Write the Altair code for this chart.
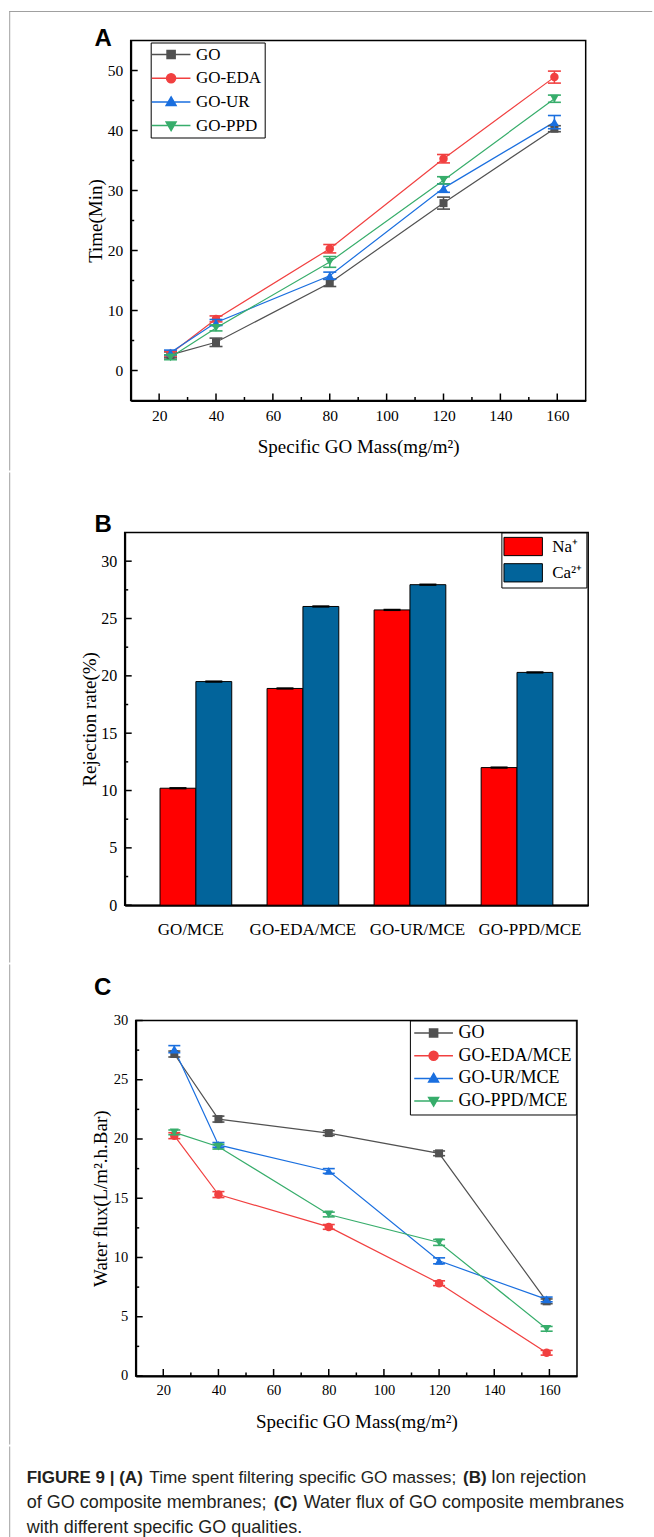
import altair as alt
import pandas as pd

SERIF = "Liberation Serif"
SANS = "Liberation Sans"
BORDER = "#a0a0a0"

# ---------------- Panel A: filtering time ----------------
mass = [24, 40, 80, 120, 159]
series_a = ["GO", "GO-EDA", "GO-UR", "GO-PPD"]
time_go = [2.6, 4.7, 14.6, 27.9, 40.3]
time_eda = [2.8, 8.6, 20.3, 35.3, 48.9]
time_ur = [3.0, 8.0, 15.8, 30.4, 41.4]
time_ppd = [2.2, 7.1, 18.1, 31.7, 45.3]
time_go_err = [0.5, 0.7, 0.6, 1.0, 0.5]
time_eda_err = [0.4, 0.5, 0.7, 0.7, 1.0]
time_ur_err = [0.4, 0.5, 0.6, 0.7, 1.1]
time_ppd_err = [0.4, 0.5, 0.9, 0.6, 0.6]

# ---------------- Panel B: ion rejection ----------------
membranes = ["GO/MCE", "GO-EDA/MCE", "GO-UR/MCE", "GO-PPD/MCE"]
ions = ["Na⁺", "Ca²⁺"]
na_rej = [10.2, 18.9, 25.75, 12.0]
ca_rej = [19.5, 26.05, 27.95, 20.3]
na_err = [0.1, 0.1, 0.1, 0.1]
ca_err = [0.1, 0.1, 0.1, 0.1]

# ---------------- Panel C: water flux ----------------
series_c = ["GO", "GO-EDA/MCE", "GO-UR/MCE", "GO-PPD/MCE"]
flux_go = [27.17, 21.68, 20.5, 18.79, 6.3]
flux_eda = [20.28, 15.31, 12.58, 7.83, 1.96]
flux_ur = [27.58, 19.5, 17.3, 9.72, 6.46]
flux_ppd = [20.56, 19.35, 13.63, 11.27, 3.98]
flux_go_err = [0.25, 0.25, 0.2, 0.2, 0.2]
flux_eda_err = [0.25, 0.25, 0.2, 0.2, 0.2]
flux_ur_err = [0.3, 0.2, 0.2, 0.25, 0.2]
flux_ppd_err = [0.2, 0.2, 0.2, 0.25, 0.2]

# ---------------- ticks ----------------
x_major = [20, 40, 60, 80, 100, 120, 140, 160]
x_minor = [30, 50, 70, 90, 110, 130, 150]
a_y_major = [0, 10, 20, 30, 40, 50]
a_y_minor = [5, 15, 25, 35, 45]
b_y_major = [0, 5, 10, 15, 20, 25, 30]
b_y_minor = [2.5, 7.5, 12.5, 17.5, 22.5, 27.5]
c_y_major = [0, 5, 10, 15, 20, 25, 30]
c_y_minor = [2.5, 7.5, 12.5, 17.5, 22.5, 27.5]

line_colors = ["#515151", "#F14040", "#1A6FDF", "#37AD6B"]
marker_shapes = ["square", "circle", "triangle-up", "triangle-down"]
marker_sizes = [64, 72, 80, 80]
legend_paths = [
    "M-4.3,0H4.3M-0.9,-0.9H0.9V0.9H-0.9Z",
    "M-4.3,0H4.3M1,0A1,1,0,1,1,-1,0A1,1,0,1,1,1,0Z",
    "M-4.3,0H4.3M0,-1.1L1.1,0.8H-1.1Z",
    "M-4.3,0H4.3M0,1.1L1.1,-0.8H-1.1Z",
]
bar_colors = ["#FF0000", "#02649B"]
b_label_shift = [-5, 0, 7.5, 13]   # category labels sit slightly off-centre in the original

INDEP = dict(color="independent", fill="independent",
             stroke="independent", shape="independent")


def one_row():
    return alt.Data(values=[{"k": 0}])


def tick_rules(values, scale, axis, channel, W, H, length, width):
    df = pd.DataFrame({"v": values})
    if channel == "x":
        return alt.Chart(df).mark_rule(color="black", strokeWidth=width).encode(
            x=alt.X("v:Q", scale=scale, axis=axis),
            y=alt.value(H), y2=alt.value(H - length))
    return alt.Chart(df).mark_rule(color="black", strokeWidth=width).encode(
        y=alt.Y("v:Q", scale=scale, axis=axis),
        x=alt.value(0), x2=alt.value(length))


def panel_label(txt, x, y):
    return alt.Chart(one_row()).mark_text(
        text=txt, font=SANS, fontSize=24, fontWeight="bold", align="left",
        baseline="alphabetic", color="black").encode(x=alt.value(x), y=alt.value(y))


def y_axis(values, title, H, fs):
    return alt.Axis(values=values, ticks=False, tickSize=0, labelPadding=8,
                    labelFont=SERIF, labelFontSize=fs, labelColor="black",
                    domainColor="black", domainWidth=2, grid=False,
                    title=title, titleFont=SERIF, titleFontSize=19,
                    titleFontWeight="normal", titleColor="black",
                    titleBaseline="alphabetic", titleX=-29, titleY=H / 2)


def line_panel(series, values, errors, W, H, ydom, ymaj, ymin, ytitle,
               tick_fs, leg_fs, leg_x, leg_y, leg_pad, leg_row, sym_off,
               lab_off, label, lab_x, lab_y, cap):
    rows = []
    for s, vals, errs in zip(series, values, errors):
        for m, v, e in zip(mass, vals, errs):
            rows.append({"series": s, "mass": m, "val": v,
                         "lo": round(v - e, 3), "hi": round(v + e, 3)})
    df = pd.DataFrame(rows)
    xs = alt.Scale(domain=[10, 170], nice=False, zero=False)
    ys = alt.Scale(domain=ydom, nice=False, zero=False)
    xaxis = alt.Axis(values=x_major, ticks=False, tickSize=0, labelPadding=8,
                     labelFont=SERIF, labelFontSize=tick_fs, labelColor="black",
                     domainColor="black", domainWidth=2, grid=False,
                     title="Specific GO Mass(mg/m²)", titleFont=SERIF,
                     titleFontSize=19, titleFontWeight="normal",
                     titleColor="black", titleBaseline="alphabetic",
                     titleX=W / 2, titleY=52)
    yaxis = y_axis(ymaj, ytitle, H, tick_fs)
    X = alt.X("mass:Q", scale=xs, axis=xaxis)
    base = alt.Chart(df)

    lines, marks = [], []
    for s, sh, sz, c in zip(series, marker_shapes, marker_sizes, line_colors):
        sub = base.transform_filter(alt.datum.series == s)
        lines.append(sub.mark_line(strokeWidth=1.2, color=c).encode(
            x=X, y=alt.Y("val:Q", scale=ys, axis=yaxis)))
        marks.append(sub.mark_rule(strokeWidth=1.5, color=c).encode(
            x=X, y=alt.Y("lo:Q", scale=ys, axis=yaxis), y2="hi:Q"))
        for f in ("lo", "hi"):
            marks.append(sub.mark_tick(orient="horizontal", size=cap, thickness=1.6,
                                       opacity=1, color=c).encode(
                x=X, y=alt.Y(f"{f}:Q", scale=ys, axis=yaxis)))
        marks.append(sub.mark_point(shape=sh, filled=True, size=sz, opacity=1,
                                    color=c).encode(
            x=X, y=alt.Y("val:Q", scale=ys, axis=yaxis)))

    leg = alt.Legend(orient="none", legendX=leg_x, legendY=leg_y, title=None,
                     strokeColor="black", fillColor="white", padding=leg_pad,
                     labelFont=SERIF, labelFontSize=leg_fs, labelColor="black",
                     symbolSize=81, symbolStrokeWidth=1.5, symbolOpacity=1,
                     rowPadding=leg_row, symbolOffset=sym_off,
                     labelOffset=lab_off, labelLimit=300)
    # marks filtered away: this layer only carries the line+marker legend
    legend_layer = base.transform_filter("false").mark_point(
        filled=True, opacity=1, size=81, strokeWidth=1.5).encode(
        shape=alt.Shape("series:N", scale=alt.Scale(domain=series, range=legend_paths), legend=leg),
        fill=alt.Fill("series:N", scale=alt.Scale(domain=series, range=line_colors), legend=leg),
        stroke=alt.Stroke("series:N", scale=alt.Scale(domain=series, range=line_colors), legend=leg))
    ticks = [
        tick_rules(x_major, xs, xaxis, "x", W, H, 7, 1.5),
        tick_rules(x_minor, xs, xaxis, "x", W, H, 3.5, 1.5),
        tick_rules(ymaj, ys, yaxis, "y", W, H, 7, 1.5),
        tick_rules(ymin, ys, yaxis, "y", W, H, 3.5, 1.5),
    ]
    return alt.layer(*lines, *marks, legend_layer, *ticks,
                     panel_label(label, lab_x, lab_y)).properties(
        width=W, height=H,
        view=alt.ViewBackground(stroke="black", strokeWidth=1.5))


# ---------------- Panel A ----------------
WA, HA = 455, 360
panel_a = line_panel(
    series_a, [time_go, time_eda, time_ur, time_ppd],
    [time_go_err, time_eda_err, time_ur_err, time_ppd_err],
    WA, HA, [-5, 55], a_y_major, a_y_minor, "Time(Min)",
    15.5, 17, 20, 2, 3.5, 5.7, 8.4, 16.3, "A", -36.25, 5, 13)

# ---------------- Panel B ----------------
WB, HB = 463.5, 372.7
rows_b = []
for g, n, c, ne, ce in zip(membranes, na_rej, ca_rej, na_err, ca_err):
    rows_b.append({"membrane": g, "ion": ions[0], "val": n, "lo": n - ne, "hi": n + ne})
    rows_b.append({"membrane": g, "ion": ions[1], "val": c, "lo": c - ce, "hi": c + ce})
df_b = pd.DataFrame(rows_b)
xsb = alt.Scale(domain=membranes, paddingInner=0.33, paddingOuter=0.33)
xob = alt.Scale(domain=ions, paddingInner=0, paddingOuter=0)
ysb = alt.Scale(domain=[0, 32.5], nice=False, zero=False)
leg_b = alt.Legend(orient="none", legendX=376.7, legendY=0, title=None,
                   strokeColor="black", fillColor="white", padding=3.5,
                   labelFont=SERIF, labelFontSize=17, labelColor="black",
                   symbolType="M-2,-0.95H2V0.95H-2Z", symbolSize=369,
                   symbolStrokeColor="black", symbolStrokeWidth=1,
                   rowPadding=3.3, symbolOffset=7.8, labelOffset=18.5)
xaxis_b = alt.Axis(ticks=False, tickSize=0, labels=False,
                   domainColor="black", domainWidth=2, grid=False, title=None)
yaxis_b = y_axis(b_y_major, "Rejection rate(%)", HB, 16)
XB = alt.X("membrane:N", scale=xsb, axis=xaxis_b)
bars_b = alt.Chart(df_b).mark_bar(stroke="black", strokeWidth=1).encode(
    x=XB, xOffset=alt.XOffset("ion:N", scale=xob),
    y=alt.Y("val:Q", scale=ysb, axis=yaxis_b),
    color=alt.Color("ion:N", scale=alt.Scale(domain=ions, range=bar_colors), legend=leg_b))
err_b = alt.Chart(df_b).mark_bar(width=17, color="black").encode(
    x=XB, xOffset=alt.XOffset("ion:N", scale=xob),
    y=alt.Y("lo:Q", scale=ysb, axis=yaxis_b), y2="hi:Q")
df_lab = pd.DataFrame({"membrane": membranes})
cat_labels = [
    alt.Chart(df_lab).transform_filter(alt.datum.membrane == m).mark_text(
        font=SERIF, fontSize=17, color="black", align="center",
        baseline="middle", dx=dx).encode(
        x=XB, y=alt.value(HB + 25), text="membrane:N")
    for m, dx in zip(membranes, b_label_shift)
]
panel_b = alt.layer(
    bars_b, err_b, *cat_labels,
    tick_rules(b_y_major, ysb, yaxis_b, "y", WB, HB, 7, 1.5),
    tick_rules(b_y_minor, ysb, yaxis_b, "y", WB, HB, 3.5, 1.5),
    panel_label("B", -30.25, -0.7),
).properties(width=WB, height=HB,
             view=alt.ViewBackground(stroke="black", strokeWidth=1.5))

# ---------------- Panel C ----------------
WC, HC = 441.3, 355.5
panel_c = line_panel(
    series_c, [flux_go, flux_eda, flux_ur, flux_ppd],
    [flux_go_err, flux_eda_err, flux_ur_err, flux_ppd_err],
    WC, HC, [0, 30], c_y_major, c_y_minor, "Water flux(L/m².h.Bar)",
    14.5, 18, 274.2, 0, 3.5, 4.7, 11.2, 16.0, "C", -41.65, -25.8, 12)

# ---------------- Caption ----------------
cap_segments = [
    ("FIGURE 9 | (A)", "bold", 17, 0, 36.7),
    ("Time spent filtering specific GO masses;", "normal", 17.2, 122.6, 36.7),
    ("(B)", "bold", 17, 436.3, 36.7),
    ("Ion rejection", "normal", 17.5, 464.2, 36.7),
    ("of GO composite membranes;", "normal", 18, 0, 61.7),
    ("(C)", "bold", 17, 247.1, 61.7),
    ("Water flux of GO composite membranes", "normal", 18, 277.1, 61.7),
    ("with different specific GO qualities.", "normal", 18, 0, 86.7),
]
caption = alt.layer(*[
    alt.Chart(one_row()).mark_text(text=t, font=SANS, fontSize=fs, fontWeight=w,
                                   align="left", baseline="alphabetic",
                                   color="#231f20").encode(x=alt.value(x), y=alt.value(y))
    for t, w, fs, x, y in cap_segments
]).properties(width=600, height=90)


# ---------------- page frame / spacers ----------------
def spacer(W, H, top, bottom, with_top=False):
    layers = [alt.Chart(one_row()).mark_rect(color=BORDER).encode(
        x=alt.value(-0.5), x2=alt.value(0.5), y=alt.value(-top), y2=alt.value(bottom))]
    if with_top:
        layers.append(alt.Chart(one_row()).mark_rect(color=BORDER).encode(
            x=alt.value(-0.5), x2=alt.value(642.5), y=alt.value(-top), y2=alt.value(-top + 1)))
    return alt.layer(*layers).properties(width=W, height=H)


def row(sp, panel):
    return alt.hconcat(sp, panel, spacing=0, bounds="flush").resolve_scale(**INDEP)


row_a = row(spacer(121, HA, 29.5, 430, True), panel_a)
row_b = row(spacer(115, HB, 60, 430), panel_b)
row_c = row(spacer(126, HC, 56, 424), panel_c)
row_cap = row(spacer(17, 90, 0, 97), caption)

chart = alt.vconcat(row_a, row_b, row_c, row_cap, spacing=0).resolve_scale(**INDEP).properties(
    padding={"left": 8.7, "top": 10.5, "right": 0, "bottom": 0},
    background="white",
).configure_view(stroke="transparent")

chart.save("out.html", embed_options={"renderer": "svg", "actions": False})
